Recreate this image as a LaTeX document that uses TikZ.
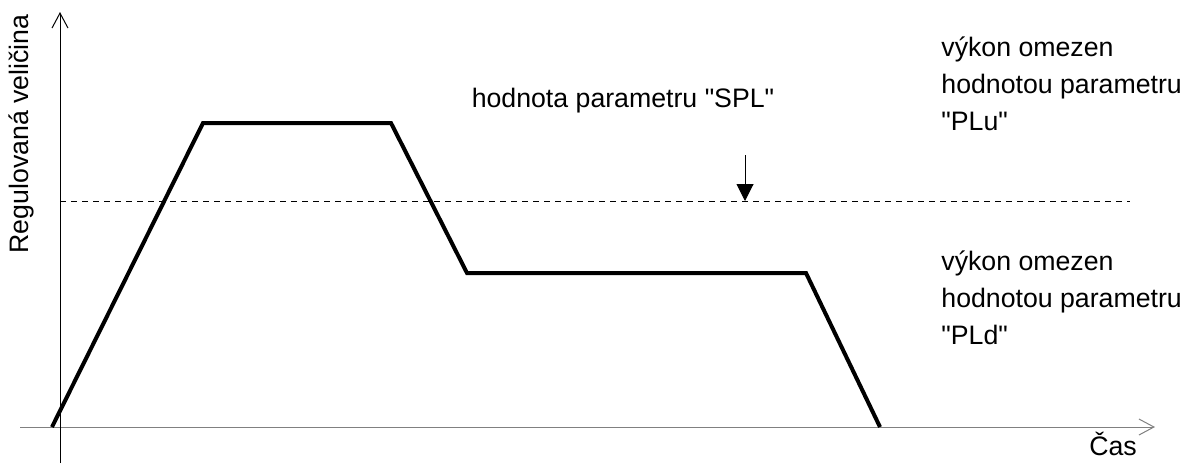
\documentclass[tikz,border=0pt]{standalone}
\usepackage{fontspec}
\setmainfont{Liberation Sans}
\usetikzlibrary{arrows.meta}

\tikzset{
  osa/.style={line width=0.5pt, -{Straight Barb[length=7.5pt,width=8pt]}},
  popis/.style={font=\fontsize{13.35}{18.5}\selectfont, inner sep=0pt, align=left},
  prubeh/.style={line width=2pt, line join=miter}
}

\begin{document}
\begin{tikzpicture}[x=0.5pt,y=-0.5pt]

		      		\useasboundingbox (0,0) rectangle (1184,463);

		      		% osy
		      		\draw[osa, gray] (20,427) -- (1155,427) coordinate (casend);
		      		\draw[osa] (60,463) -- (60,12) coordinate (velend);

		      		\node[popis, rotate=90] (velicina) at (21,134) {Regulovaná veličina};
		      		\node[popis] (cas) at (1113,444) {Čas};

		      		% hodnota SPL
		      		\draw[dashed, dash pattern=on 3pt off 2.5pt, line width=0.5pt] (60,201) -- (1130,201);
		      		\node[popis] (spl) at (623,101) {hodnota parametru \textquotedbl SPL\textquotedbl};
		      		\coordinate (splstart) at (745,155);
		      		\coordinate (splend) at (745,201);
		      		\draw[line width=0.5pt, -{Triangle[length=8.5pt,width=8.5pt]}] (splstart) -- (splend);

		      		% prubeh regulovane veliciny
		      		\draw[prubeh] (52,427) -- (203,123) -- (391,123) -- (467,273) -- (806,273) -- (880,427);

		      		\node[popis, anchor=north west] (plu) at (941,36) {výkon omezen\\hodnotou parametru\\\textquotedbl PLu\textquotedbl};
		      		\node[popis, anchor=north west] (pld) at (941,250) {výkon omezen\\hodnotou parametru\\\textquotedbl PLd\textquotedbl};

		      	\end{tikzpicture}
\end{document}
